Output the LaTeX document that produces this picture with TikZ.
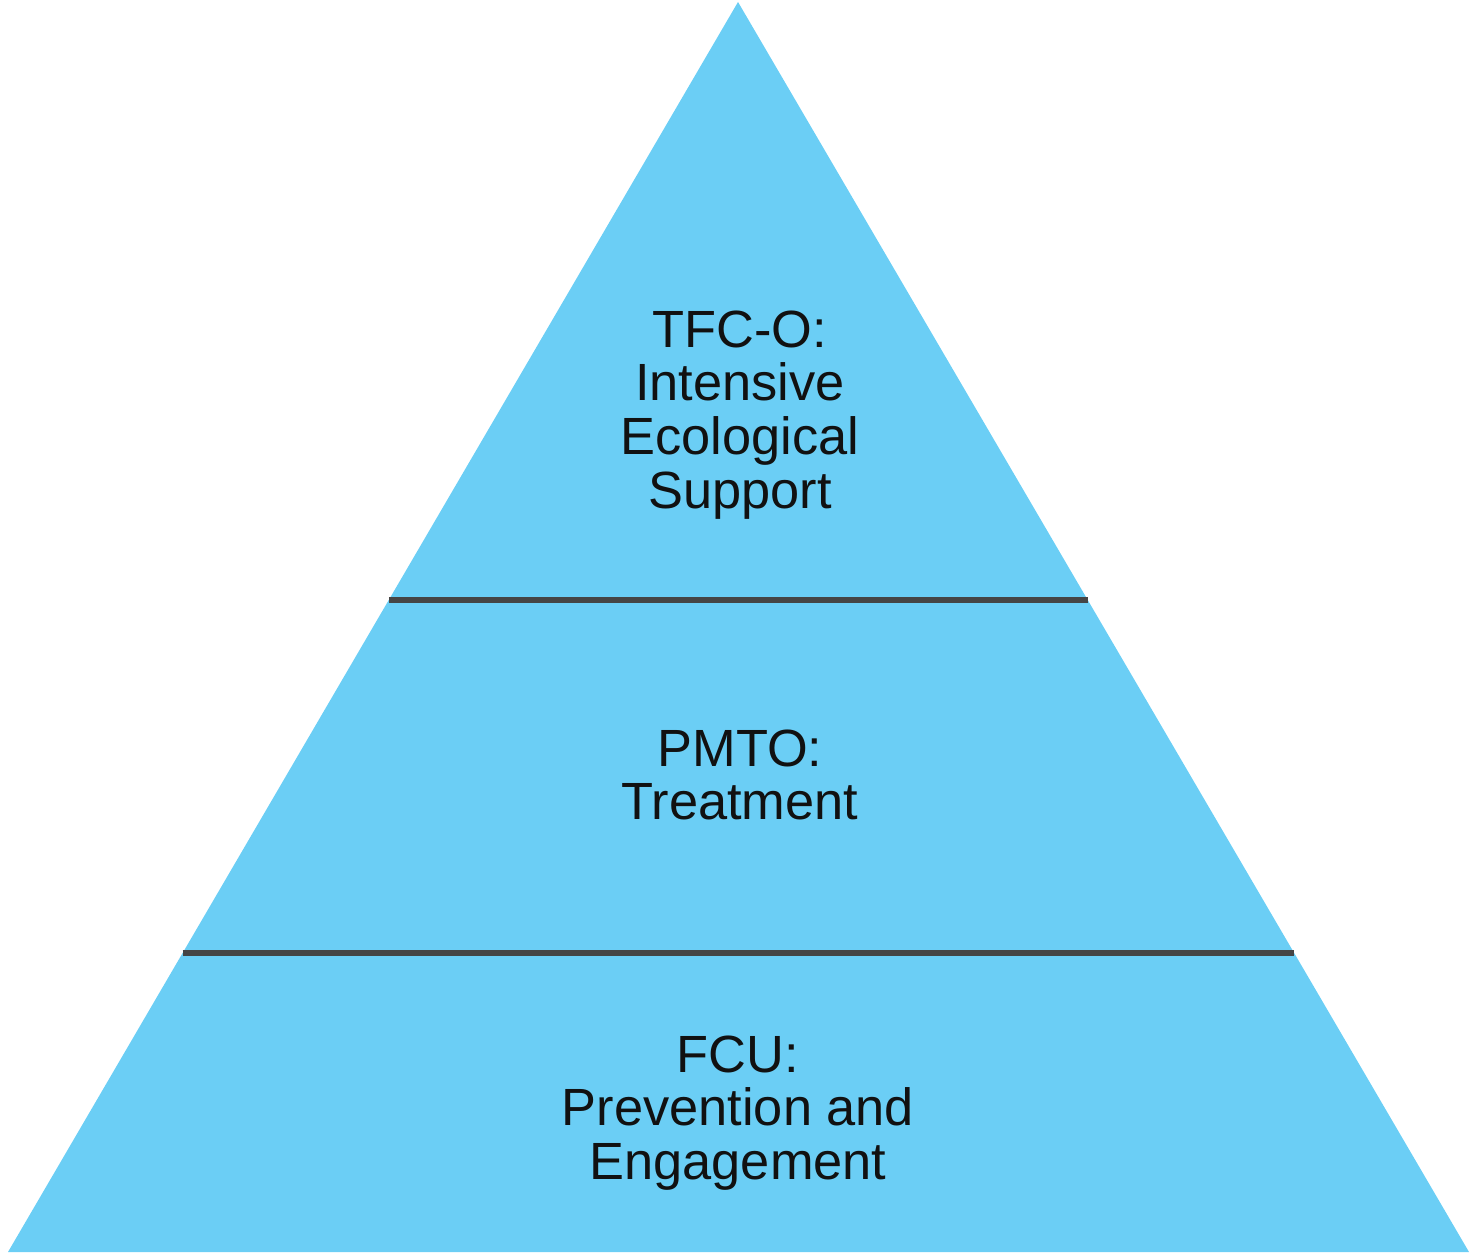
\documentclass[tikz,border=0pt]{standalone}
\usepackage{fontspec}
\setmainfont{Liberation Sans}
\usetikzlibrary{calc}
\definecolor{tierfill}{HTML}{6BCEF5}
\definecolor{tierline}{HTML}{454545}
\definecolor{tiertext}{HTML}{111111}

\begin{document}
\begin{tikzpicture}[
    tier/.style={align=center, text=tiertext, inner sep=0pt,
                 font=\fontsize{14.9}{15.3}\selectfont},
    divider/.style={draw=tierline, line width=1.5pt}
]
    \useasboundingbox (0,0) rectangle (14.73,12.55);

    % 三角形
    \coordinate (apex) at (7.38,12.53);
    \coordinate (baseL) at (0.08,0.03);
    \coordinate (baseR) at (14.69,0.03);
    \fill[tierfill] (apex) -- (baseR) -- (baseL) -- cycle;

    % 分隔线
    \coordinate (d1L) at ($(apex)!0.4784!(baseL)$);
    \coordinate (d1R) at ($(apex)!0.4784!(baseR)$);
    \coordinate (d2L) at ($(apex)!0.7608!(baseL)$);
    \coordinate (d2R) at ($(apex)!0.7608!(baseR)$);
    \draw[divider] (d1L) -- (d1R);
    \draw[divider] (d2L) -- (d2R);

    % 层级文字
    \node[tier] (top) at (7.40,8.40) {TFC-O:\\Intensive\\Ecological\\Support};
    \node[tier] (mid) at (7.40,4.80) {PMTO:\\Treatment};
    \node[tier] (low) at (7.38,1.42) {FCU:\\Prevention and\\Engagement};
\end{tikzpicture}
\end{document}
